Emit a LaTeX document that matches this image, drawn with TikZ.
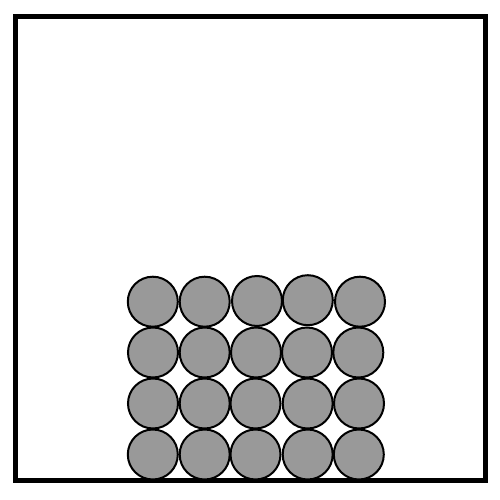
\documentclass[tikz,border=0pt]{standalone}
\begin{document}
\begin{tikzpicture}[x=1pt,y=-1pt,
  ball/.style={circle,draw=black,fill=ballgray,line width=2pt,minimum size=50pt,inner sep=0pt},
  frame/.style={draw=black,line width=5pt}]
\definecolor{ballgray}{HTML}{999999}
\useasboundingbox (0,0) rectangle (500,500);
\node[frame,rectangle,minimum width=469.5pt,minimum height=463.5pt,inner sep=0pt] (box) at (250.25,248.25) {};
% row 1
\node[ball] (b11) at (152.8,301.7) {};
\node[ball] (b12) at (204.7,301.7) {};
\node[ball] (b13) at (257,301) {};
\node[ball] (b14) at (307.8,300.2) {};
\node[ball] (b15) at (360,301.7) {};
% row 2
\node[ball] (b21) at (153,352.5) {};
\node[ball] (b22) at (204.7,352.5) {};
\node[ball] (b23) at (256,352.5) {};
\node[ball] (b24) at (307,352.5) {};
\node[ball] (b25) at (358.3,352.5) {};
% row 3
\node[ball] (b31) at (153,403.5) {};
\node[ball] (b32) at (204.7,403.5) {};
\node[ball] (b33) at (255.5,403.5) {};
\node[ball] (b34) at (307.7,403.5) {};
\node[ball] (b35) at (359,403.5) {};
% row 4
\node[ball] (b41) at (152.8,454.5) {};
\node[ball] (b42) at (204.7,454.5) {};
\node[ball] (b43) at (255.5,454.5) {};
\node[ball] (b44) at (307.7,454.5) {};
\node[ball] (b45) at (358.8,454.5) {};
\end{tikzpicture}
\end{document}
